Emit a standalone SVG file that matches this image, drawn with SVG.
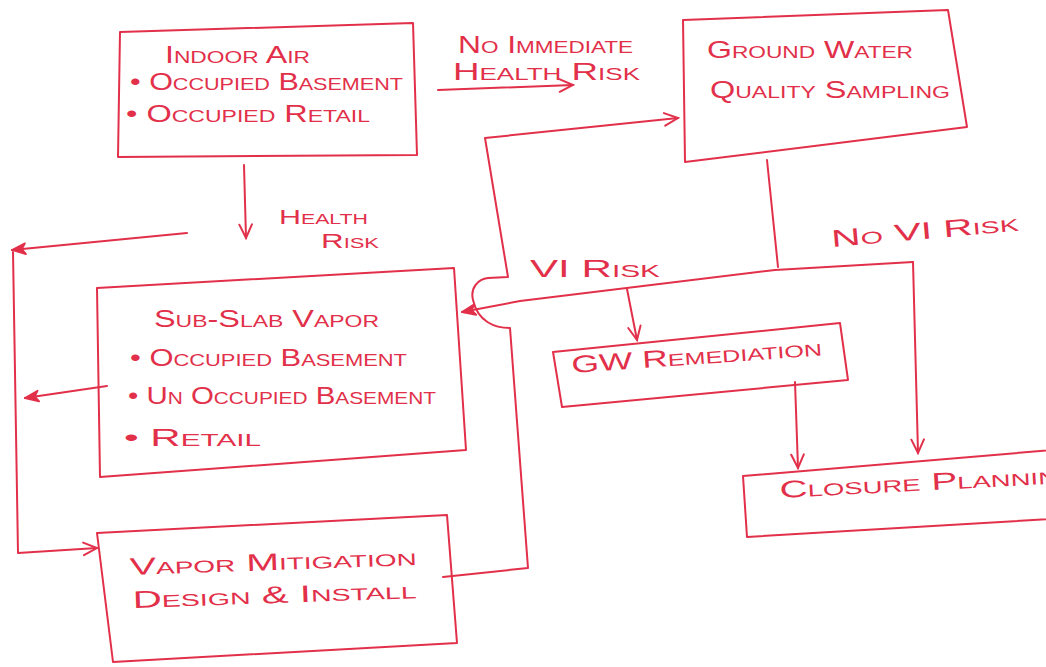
<svg xmlns="http://www.w3.org/2000/svg" width="1046" height="667" viewBox="0 0 1046 667">
  <style>
    .box{fill:none;stroke:#e2304a;stroke-width:2;stroke-linejoin:round}
    .ln{fill:none;stroke:#e2304a;stroke-width:2;stroke-linejoin:round;stroke-linecap:round}
    .t{font-family:"Liberation Sans",Arial,sans-serif;font-variant:small-caps;fill:#e2304a;font-size:24px}
    .s{font-size:20px}
  </style>
  <defs>
    <marker id="ah" viewBox="0 0 20 20" refX="18" refY="10" markerWidth="18" markerHeight="18" markerUnits="userSpaceOnUse" orient="auto">
      <path d="M3,3 L18,10 L3,17" fill="none" stroke="#e2304a" stroke-width="2.2" stroke-linecap="round"/>
    </marker>
    <marker id="ahf" viewBox="0 0 20 20" refX="18" refY="10" markerWidth="18" markerHeight="18" markerUnits="userSpaceOnUse" orient="auto">
      <path d="M3,4 L18,10 L3,16 L7,10 Z" fill="#e2304a" stroke="#e2304a" stroke-width="2" stroke-linejoin="round"/>
    </marker>
  </defs>
  <rect width="1046" height="667" fill="#ffffff"/>

  <g id="connectors">
    <path class="ln" d="M438,90 L573,85" marker-end="url(#ah)"/>
    <path class="ln" d="M244,165 L246,238" marker-end="url(#ah)"/>
    <path class="ln" d="M187,233 L12,250" marker-end="url(#ahf)"/>
    <path class="ln" d="M13,252 L18,553 L97,548" marker-end="url(#ah)"/>
    <path class="ln" d="M107,386 L25,398" marker-end="url(#ahf)"/>
    <path class="ln" d="M767,160 L778,267"/>
    <path class="ln" d="M913,262 L775,270 L520,301 L462,312" marker-end="url(#ahf)"/>
    <path class="ln" d="M913,262 L918,453" marker-end="url(#ah)"/>
    <path class="ln" d="M627,289 L637,340" marker-end="url(#ah)"/>
    <path class="ln" d="M795,382 L798,468" marker-end="url(#ah)"/>
    <path class="ln" d="M443,577 L528,568 L510,328 C495,328 478,322 473,300 C470,288 478,279 488,278 L508,277 L485,138 L678,118" marker-end="url(#ah)"/>
    <text class="t" x="458" y="53" textLength="175" lengthAdjust="spacingAndGlyphs">No Immediate</text>
    <text class="t" x="453" y="80" textLength="187" lengthAdjust="spacingAndGlyphs">Health Risk</text>
    <text class="t s" x="279" y="224" textLength="89" lengthAdjust="spacingAndGlyphs">Health</text>
    <text class="t s" x="321" y="248" textLength="58" lengthAdjust="spacingAndGlyphs">Risk</text>
    <text class="t" x="530" y="277" textLength="130" lengthAdjust="spacingAndGlyphs">VI Risk</text>
    <text class="t" x="832" y="247" textLength="188" lengthAdjust="spacingAndGlyphs" transform="rotate(-5 832 247)">No VI Risk</text>
  </g>

  <g id="indoor-air">
    <polygon class="box" points="120,32 413,23 417,155 118,157"/>
    <text class="t" x="165" y="63" textLength="145" lengthAdjust="spacingAndGlyphs">Indoor Air</text>
    <text class="t" x="130" y="90" textLength="273" lengthAdjust="spacingAndGlyphs">• Occupied Basement</text>
    <text class="t" x="126" y="122" textLength="244" lengthAdjust="spacingAndGlyphs">• Occupied Retail</text>
  </g>

  <g id="ground-water">
    <polygon class="box" points="683,20 948,10 967,127 685,162"/>
    <text class="t" x="707" y="58" textLength="206" lengthAdjust="spacingAndGlyphs">Ground Water</text>
    <text class="t" x="710" y="98" textLength="240" lengthAdjust="spacingAndGlyphs">Quality Sampling</text>
  </g>

  <g id="sub-slab">
    <polygon class="box" points="97,288 454,268 466,450 100,477"/>
    <text class="t" x="154" y="327" textLength="225" lengthAdjust="spacingAndGlyphs">Sub-Slab Vapor</text>
    <text class="t" x="130" y="366" textLength="277" lengthAdjust="spacingAndGlyphs">• Occupied Basement</text>
    <text class="t" x="128" y="404" textLength="308" lengthAdjust="spacingAndGlyphs">• Un Occupied Basement</text>
    <text class="t" x="124" y="446" textLength="137" lengthAdjust="spacingAndGlyphs">• Retail</text>
  </g>

  <g id="vapor-mitigation">
    <polygon class="box" points="97,533 447,515 457,643 113,662"/>
    <text class="t" x="130" y="575" textLength="287" lengthAdjust="spacingAndGlyphs" transform="rotate(-2 130 575)">Vapor Mitigation</text>
    <text class="t" x="133" y="608" textLength="284" lengthAdjust="spacingAndGlyphs" transform="rotate(-2 133 608)">Design &amp; Install</text>
  </g>

  <g id="gw-remediation">
    <polygon class="box" points="553,352 840,323 848,380 562,407"/>
    <text class="t" x="572" y="373" textLength="251" lengthAdjust="spacingAndGlyphs" transform="rotate(-4 572 373)">GW Remediation</text>
  </g>

  <g id="closure-planning">
    <polygon class="box" points="743,476 1100,446 1100,516 747,537"/>
    <text class="t" x="780" y="498" textLength="300" lengthAdjust="spacingAndGlyphs" transform="rotate(-3 780 498)">Closure Planning</text>
  </g>
</svg>
